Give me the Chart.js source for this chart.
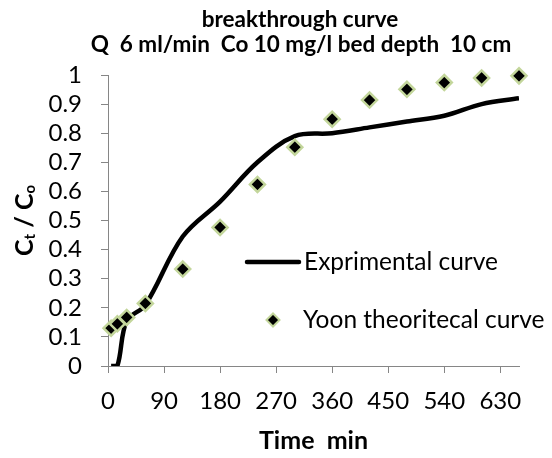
<!DOCTYPE html>
<html>
<head>
<meta charset="utf-8">
<script src="https://cdn.jsdelivr.net/npm/chart.js@4.4.1/dist/chart.umd.min.js"></script>
<style>
  html, body { margin: 0; padding: 0; background: #fff; }
  #wrap { width: 552px; height: 458px; }
</style>
</head>
<body>
<div id="wrap"><canvas id="bt"></canvas></div>
<script>
// time (min) and Ct/Co
const timeMin = [5, 15, 30, 60, 120, 180, 240, 300, 360, 420, 480, 540, 600, 660];
const expCt = [0, 0, 0.155, 0.21, 0.445, 0.565, 0.70, 0.79, 0.80, 0.82, 0.84, 0.86, 0.90, 0.92];
const yoonCt = [0.13, 0.145, 0.167, 0.215, 0.333, 0.476, 0.624, 0.752, 0.848, 0.914, 0.951, 0.974, 0.99, 0.997];

const xTicks = [0, 90, 180, 270, 360, 450, 540, 630];
const yTicks = [0, 0.1, 0.2, 0.3, 0.4, 0.5, 0.6, 0.7, 0.8, 0.9, 1];

const titleLines = ['breakthrough curve', 'Q  6 ml/min  Co 10 mg/l bed depth  10 cm'];
const seriesNames = ['Exprimental curve', 'Yoon theoritecal curve'];

const FONT = 'Lato, "Open Sans", sans-serif';
const axisGray = '#868686';
const diamondEdge = '#c3d69b';

Chart.defaults.font.family = FONT;
Chart.defaults.color = '#000';

// title, rotated y title with subscripts, and the legend inside the plot
const decorations = {
    id: 'decorations',
    afterDraw(chart) {
        const ctx = chart.ctx;
        const area = chart.chartArea;
        ctx.save();
        ctx.fillStyle = '#000';
        ctx.textBaseline = 'middle';

        ctx.font = 'bold 22.5px ' + FONT;
        ctx.textAlign = 'center';
        ctx.fillText(titleLines[0], 300, 20);
        ctx.fillText(titleLines[1], 301, 45);

        // Ct / Co
        ctx.save();
        ctx.translate(25, (area.top + area.bottom) / 2);
        ctx.rotate(-Math.PI / 2);
        ctx.textAlign = 'left';
        const parts = [
            ['C', 25, 0], ['t', 15, 5], [' / ', 25, 0], ['C', 25, 0], ['o', 15, 5]
        ];
        let total = 0;
        parts.forEach(p => { ctx.font = 'bold ' + p[1] + 'px ' + FONT; total += ctx.measureText(p[0]).width; });
        let pos = -total / 2;
        parts.forEach(p => {
            ctx.font = 'bold ' + p[1] + 'px ' + FONT;
            ctx.fillText(p[0], pos, p[2]);
            pos += ctx.measureText(p[0]).width;
        });
        ctx.restore();

        // legend
        const lx = area.left + 137;
        const ly1 = area.top + 187;
        const ly2 = area.top + 245;
        ctx.strokeStyle = '#000';
        ctx.lineWidth = 4.5;
        ctx.lineCap = 'round';
        ctx.beginPath();
        ctx.moveTo(lx + 2, ly1);
        ctx.lineTo(lx + 54, ly1);
        ctx.stroke();

        ctx.fillStyle = '#000';
        ctx.strokeStyle = diamondEdge;
        ctx.lineWidth = 2;
        Chart.helpers.drawPoint(ctx, { pointStyle: 'rectRot', radius: 6.5, borderWidth: 2 }, lx + 28, ly2);

        ctx.fillStyle = '#000';
        ctx.font = '24.5px ' + FONT;
        ctx.textAlign = 'left';
        ctx.fillText(seriesNames[0], lx + 59, ly1);
        ctx.fillText(seriesNames[1], lx + 58, ly2);
        ctx.restore();
    }
};

const ctx = document.getElementById('bt').getContext('2d');
const btChart = new Chart(ctx, {
    type: 'scatter',
    data: {
        datasets: [
            {
                label: seriesNames[1],
                data: timeMin.map((t, i) => ({ x: t, y: yoonCt[i] })),
                showLine: false,
                pointStyle: 'rectRot',
                pointRadius: 7.5,
                pointHoverRadius: 7.5,
                pointBackgroundColor: '#000',
                pointBorderColor: diamondEdge,
                pointBorderWidth: 2.5,
                clip: false,
                order: 1
            },
            {
                label: seriesNames[0],
                data: timeMin.map((t, i) => ({ x: t, y: expCt[i] })),
                showLine: true,
                borderColor: '#000',
                borderWidth: 4.5,
                pointRadius: 0,
                tension: 0.35,
                order: 2
            }
        ]
    },
    options: {
        responsive: true,
        maintainAspectRatio: false,
        animation: false,
        layout: { padding: { top: 75, right: 33, left: 0, bottom: 0 } },
        plugins: {
            legend: { display: false },
            title: { display: false },
            tooltip: { enabled: false }
        },
        scales: {
            x: {
                type: 'linear',
                min: 0,
                max: 660,
                bounds: 'data',
                afterBuildTicks: s => { s.ticks = xTicks.map(v => ({ value: v })); },
                afterFit: s => { s.height = 92; },
                ticks: { font: { size: 24 }, padding: 14, maxRotation: 0, autoSkip: false },
                grid: { drawOnChartArea: false, drawTicks: true, tickLength: 7, color: axisGray },
                border: { color: axisGray, width: 1 },
                title: {
                    display: true,
                    text: 'Time  min',
                    font: { size: 25, weight: 'bold' },
                    padding: { top: 0, bottom: 2 }
                }
            },
            y: {
                min: 0,
                max: 1,
                afterBuildTicks: s => { s.ticks = yTicks.map(v => ({ value: v })); },
                afterFit: s => { s.width = 108; },
                ticks: {
                    font: { size: 24 },
                    padding: 19,
                    autoSkip: false,
                    callback: v => String(Math.round(v * 10) / 10)
                },
                grid: { drawOnChartArea: false, drawTicks: true, tickLength: 7, color: axisGray },
                border: { color: axisGray, width: 1 }
            }
        }
    },
    plugins: [decorations]
});
</script>
</body>
</html>
